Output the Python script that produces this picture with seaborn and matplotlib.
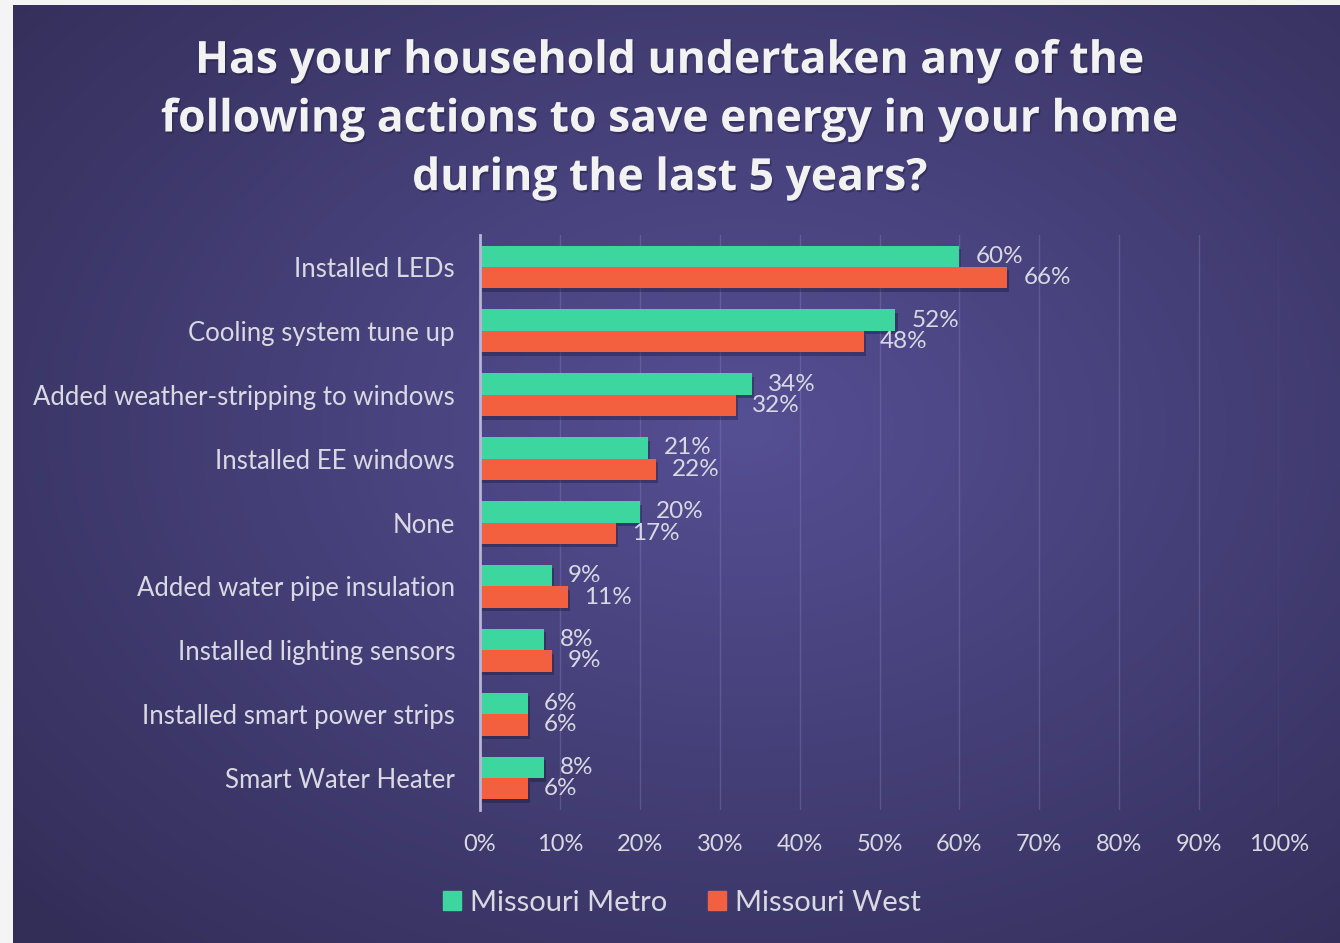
import numpy as np
import pandas as pd
import matplotlib.pyplot as plt
import matplotlib.patches as mpatches
import matplotlib.patheffects as pe
import seaborn as sns

actions = ['Installed LEDs', 'Cooling system tune up', 'Added weather-stripping to windows',
           'Installed EE windows', 'None', 'Added water pipe insulation',
           'Installed lighting sensors', 'Installed smart power strips', 'Smart Water Heater']
metro = [60, 52, 34, 21, 20, 9, 8, 6, 8]
west = [66, 48, 32, 22, 17, 11, 9, 6, 6]
regions = ['Missouri Metro', 'Missouri West']
ticks = list(range(0, 101, 10))

df = pd.DataFrame({'action': actions * 2,
                   'pct': metro + west,
                   'region': [regions[0]] * len(actions) + [regions[1]] * len(actions)})

sns.set_theme(style='white')
plt.rcParams['font.family'] = ['Lato', 'DejaVu Sans']

green = '#3dd69f'
red = '#f2603f'
txt = '#d9d9e3'

fig = plt.figure(figsize=(13.4, 9.43), dpi=100)
fig.patch.set_facecolor('#f4f4f4')

# background panel with radial gradient
bg = fig.add_axes([13 / 1340, 0, 1 - 13 / 1340, 1 - 5 / 943])
h, w = 400, 560
yy, xx = np.mgrid[0:h, 0:w]
d = np.sqrt(((xx - 0.55 * w) / w) ** 2 + ((yy - 0.45 * h) / h) ** 2) / 0.75
d = np.clip(d, 0, 1)[..., None]
c0 = np.array([0x55, 0x4f, 0x94]) / 255
c1 = np.array([0x33, 0x2e, 0x58]) / 255
bg.imshow(c0 * (1 - d) + c1 * d, aspect='auto', interpolation='bilinear')
bg.axis('off')

ax = fig.add_axes([480 / 1340, 1 - 810 / 943, 799 / 1340, 575 / 943])
ax.patch.set_alpha(0)
sns.barplot(data=df, y='action', x='pct', hue='region', orient='h',
            palette=[green, red], saturation=1, width=0.67, ax=ax,
            legend=False, zorder=3, linewidth=0, edgecolor='none')

# soft shadow under the bars
for p in ax.patches:
    p.set_path_effects([pe.SimplePatchShadow(offset=(1.5, -2.5), shadow_rgbFace='#15122e', alpha=0.35),
                        pe.Normal()])

ax.set_xlim(0, 100)
ax.set_xticks(ticks)
ax.set_xticklabels([f'{t}%' for t in ticks], color=txt, fontsize=17)
ax.tick_params(axis='y', labelsize=18.5, colors=txt, length=0, pad=18)
ax.tick_params(axis='x', length=0, pad=17)
ax.set_xlabel('')
ax.set_ylabel('')
for t in ticks[1:]:
    ax.axvline(t, color='#8a86c0', alpha=0.35, lw=1, zorder=1)
for s in ['top', 'right', 'bottom']:
    ax.spines[s].set_visible(False)
ax.spines['left'].set_color('#b7b4d6')
ax.spines['left'].set_linewidth(2)
ax.spines['left'].set_zorder(5)

for cont, vals in zip(ax.containers, [metro, west]):
    ax.bar_label(cont, labels=[f'{v}%' for v in vals], padding=11.5,
                 color=txt, fontsize=17.5)

fig.text(0.5, 1 - 120 / 943,
         'Has your household undertaken any of the\nfollowing actions to save energy in your home\nduring the last 5 years?',
         ha='center', va='center', fontsize=32, fontweight='bold', color='#f2f2f2',
         linespacing=1.4, family=['Open Sans', 'DejaVu Sans'],
         path_effects=[pe.withSimplePatchShadow(offset=(1, -1.5), shadow_rgbFace='#1a1733', alpha=0.4)])

handles = [mpatches.Patch(color=green), mpatches.Patch(color=red)]
fig.legend(handles, regions, loc='center', bbox_to_anchor=(0.509, 1 - 903 / 943),
           ncol=2, frameon=False, fontsize=21, labelcolor=txt,
           handlelength=0.62, handleheight=0.62, handletextpad=0.31, columnspacing=1.4)

fig.savefig('out.png', dpi=100, facecolor=fig.get_facecolor())
